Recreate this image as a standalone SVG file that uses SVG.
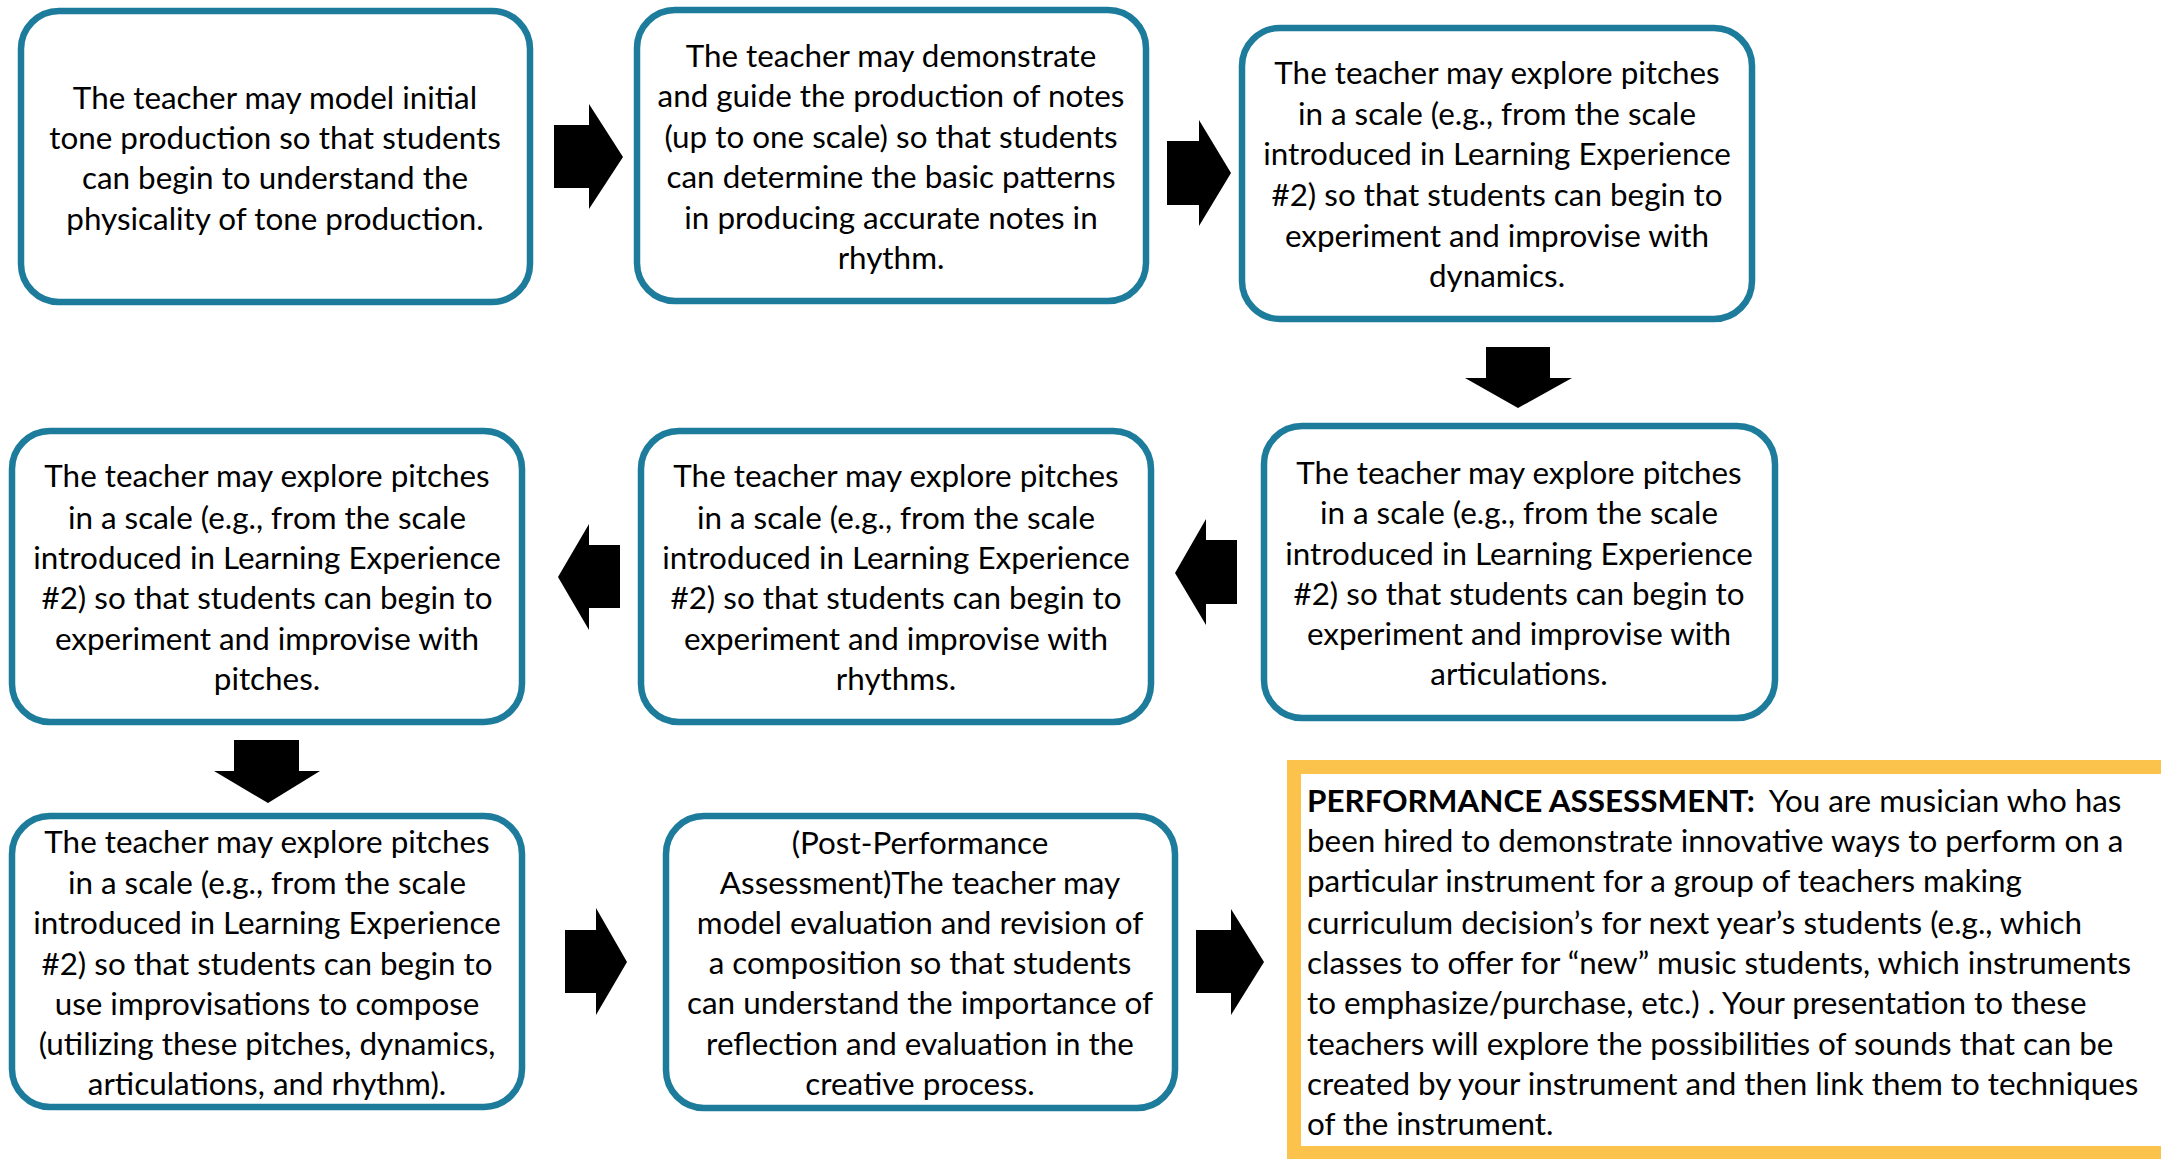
<svg xmlns="http://www.w3.org/2000/svg" width="2161" height="1159" viewBox="0 0 2161 1159">
<style>
.box{fill:#ffffff;stroke:#1d7b9c;stroke-width:6.5}
.pa{fill:#ffffff;stroke:#fbc34b;stroke-width:14}
.t{font-family:Lato,"Liberation Sans",sans-serif;font-size:31.4px;fill:#000000;text-anchor:middle}
.tl{font-family:Lato,"Liberation Sans",sans-serif;font-size:31.4px;fill:#000000;text-anchor:start}
.arr{fill:#000000}
</style>
<rect x="0" y="0" width="2161" height="1159" fill="#ffffff"/>
<g id="connectors">
<polygon class="arr" points="554,125 589,125 589,104 623,157 589,209 589,188 554,188"/>
<polygon class="arr" points="1167,141 1199,141 1199,120 1231,173 1199,226 1199,205 1167,205"/>
<polygon class="arr" points="1486,347 1550,347 1550,378 1572,378 1518,408 1465,378 1486,378"/>
<polygon class="arr" points="1237,540 1206,540 1206,519 1175,573 1206,625 1206,604 1237,604"/>
<polygon class="arr" points="620,545 589,545 589,524 558,577 589,630 589,608 620,608"/>
<polygon class="arr" points="234,740 299,740 299,771 320,771 268,803 214,771 234,771"/>
<polygon class="arr" points="565,930 596,930 596,908 627,962 596,1015 596,993 565,993"/>
<polygon class="arr" points="1196,930 1231,930 1231,909 1264,962 1231,1015 1231,993 1196,993"/>
</g>
<g id="node1">
<rect class="box" x="21" y="11" width="509" height="291" rx="38"/>
<text class="t" x="275" y="109">The teacher may model initial</text>
<text class="t" x="275" y="149">tone production so that students</text>
<text class="t" x="275" y="189">can begin to understand the</text>
<text class="t" x="275" y="230">physicality of tone production.</text>
</g>
<g id="node2">
<rect class="box" x="637" y="10" width="509" height="291" rx="38"/>
<text class="t" x="891" y="67">The teacher may demonstrate</text>
<text class="t" x="891" y="107">and guide the production of notes</text>
<text class="t" x="891" y="148">(up to one scale) so that students</text>
<text class="t" x="891" y="188">can determine the basic patterns</text>
<text class="t" x="891" y="229">in producing accurate notes in</text>
<text class="t" x="891" y="269">rhythm.</text>
</g>
<g id="node3">
<rect class="box" x="1242" y="28" width="510" height="291" rx="38"/>
<text class="t" x="1497" y="84">The teacher may explore pitches</text>
<text class="t" x="1497" y="125">in a scale (e.g., from the scale</text>
<text class="t" x="1497" y="165">introduced in Learning Experience</text>
<text class="t" x="1497" y="206">#2) so that students can begin to</text>
<text class="t" x="1497" y="247">experiment and improvise with</text>
<text class="t" x="1497" y="287">dynamics.</text>
</g>
<g id="node4">
<rect class="box" x="1264" y="426" width="511" height="292" rx="38"/>
<text class="t" x="1519" y="484">The teacher may explore pitches</text>
<text class="t" x="1519" y="524">in a scale (e.g., from the scale</text>
<text class="t" x="1519" y="565">introduced in Learning Experience</text>
<text class="t" x="1519" y="605">#2) so that students can begin to</text>
<text class="t" x="1519" y="645">experiment and improvise with</text>
<text class="t" x="1519" y="685">articulations.</text>
</g>
<g id="node5">
<rect class="box" x="641" y="431" width="510" height="291" rx="38"/>
<text class="t" x="896" y="487">The teacher may explore pitches</text>
<text class="t" x="896" y="529">in a scale (e.g., from the scale</text>
<text class="t" x="896" y="569">introduced in Learning Experience</text>
<text class="t" x="896" y="609">#2) so that students can begin to</text>
<text class="t" x="896" y="650">experiment and improvise with</text>
<text class="t" x="896" y="690">rhythms.</text>
</g>
<g id="node6">
<rect class="box" x="12" y="431" width="510" height="291" rx="38"/>
<text class="t" x="267" y="487">The teacher may explore pitches</text>
<text class="t" x="267" y="529">in a scale (e.g., from the scale</text>
<text class="t" x="267" y="569">introduced in Learning Experience</text>
<text class="t" x="267" y="609">#2) so that students can begin to</text>
<text class="t" x="267" y="650">experiment and improvise with</text>
<text class="t" x="267" y="690">pitches.</text>
</g>
<g id="node7">
<rect class="box" x="12" y="816" width="510" height="291" rx="38"/>
<text class="t" x="267" y="853">The teacher may explore pitches</text>
<text class="t" x="267" y="894">in a scale (e.g., from the scale</text>
<text class="t" x="267" y="934">introduced in Learning Experience</text>
<text class="t" x="267" y="975">#2) so that students can begin to</text>
<text class="t" x="267" y="1015">use improvisations to compose</text>
<text class="t" x="267" y="1055">(utilizing these pitches, dynamics,</text>
<text class="t" x="267" y="1095">articulations, and rhythm).</text>
</g>
<g id="node8">
<rect class="box" x="666" y="816" width="509" height="292" rx="38"/>
<text class="t" x="920" y="854">(Post-Performance</text>
<text class="t" x="920" y="894">Assessment)The teacher may</text>
<text class="t" x="920" y="934">model evaluation and revision of</text>
<text class="t" x="920" y="974">a composition so that students</text>
<text class="t" x="920" y="1014">can understand the importance of</text>
<text class="t" x="920" y="1055">reflection and evaluation in the</text>
<text class="t" x="920" y="1095">creative process.</text>
</g>
<g id="performance-assessment">
<rect class="pa" x="1294" y="767" width="880" height="386"/>
<text class="tl" x="1307" y="812"><tspan font-weight="bold">PERFORMANCE ASSESSMENT:</tspan><tspan dx="14">You are musician who has</tspan></text>
<text class="tl" x="1307" y="852">been hired to demonstrate innovative ways to perform on a</text>
<text class="tl" x="1307" y="892">particular instrument for a group of teachers making</text>
<text class="tl" x="1307" y="934">curriculum decision’s for next year’s students (e.g., which</text>
<text class="tl" x="1307" y="974">classes to offer for “new” music students, which instruments</text>
<text class="tl" x="1307" y="1014">to emphasize/purchase, etc.) . Your presentation to these</text>
<text class="tl" x="1307" y="1055">teachers will explore the possibilities of sounds that can be</text>
<text class="tl" x="1307" y="1095">created by your instrument and then link them to techniques</text>
<text class="tl" x="1307" y="1135">of the instrument.</text>
</g>
</svg>
